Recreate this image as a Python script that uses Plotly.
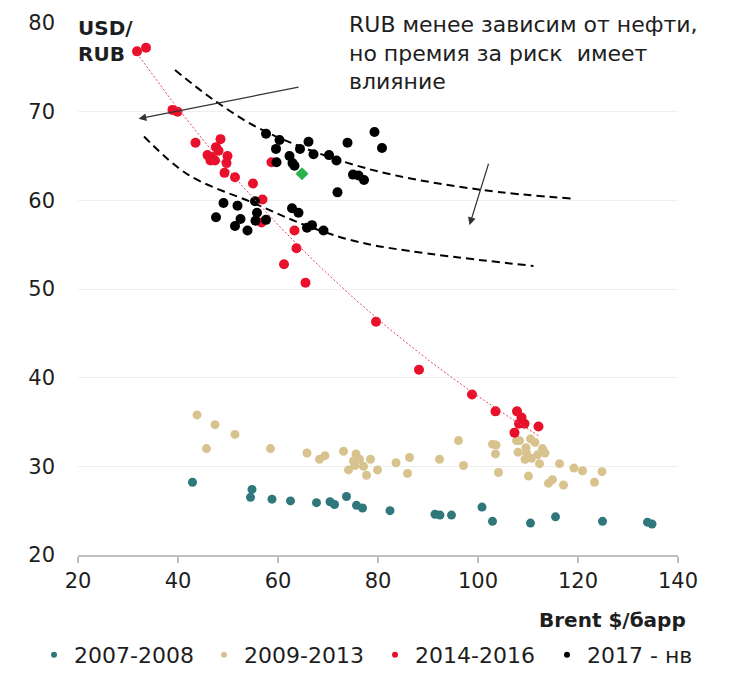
import numpy as np
import plotly.graph_objects as go

# ---------------- data ----------------
teal_x = [42.9, 54.8, 54.5, 58.8, 62.5, 67.7, 70.4, 71.3, 73.7, 75.7, 76.9, 82.4, 91.4, 92.4,
          94.7, 100.8, 102.9, 110.5, 115.5, 124.9, 133.9, 134.8]
teal_y = [28.2, 27.4, 26.5, 26.3, 26.1, 25.9, 26.0, 25.7, 26.6, 25.6, 25.3, 25.0, 24.6, 24.5,
          24.5, 25.4, 23.8, 23.6, 24.3, 23.8, 23.7, 23.5]

tan_x = [43.8, 47.4, 51.4, 45.7, 58.5, 65.8, 68.3, 69.4, 73.1, 75.6, 75.1, 76.3, 74.1, 75.4,
         77.1, 77.7, 78.5, 79.9, 83.6, 86.3, 85.9, 92.3, 96.1, 97.1, 102.9, 103.6, 103.5, 104.1,
         107.7, 108.3, 110.5, 111.4, 109.6, 108.0, 109.7, 112.9, 113.4, 111.9, 109.4, 110.7,
         112.3, 110.1, 116.3, 119.2, 120.9, 124.8, 123.3, 114.1, 114.9, 117.1]
tan_y = [35.8, 34.7, 33.6, 32.0, 32.0, 31.5, 30.8, 31.2, 31.7, 31.4, 30.6, 30.8, 29.6, 30.1,
         30.0, 29.0, 30.8, 29.6, 30.4, 31.0, 29.2, 30.8, 32.9, 30.1, 32.5, 32.4, 31.4, 29.3,
         32.9, 32.9, 33.1, 32.7, 32.1, 31.6, 31.5, 32.0, 31.5, 31.3, 30.8, 30.9,
         30.3, 28.9, 30.3, 29.8, 29.5, 29.4, 28.2, 28.1, 28.5, 27.9]

red_x = [31.8, 33.6, 38.9, 39.9, 43.5, 48.5, 47.6, 45.9, 46.8, 46.5, 47.4, 48.1, 49.9, 49.7,
         49.3, 51.4, 55.0, 56.9, 56.7, 58.7, 63.3, 63.7, 61.2, 65.5, 79.6, 88.2, 98.8, 103.5,
         107.8, 108.7, 108.2, 109.3, 112.1, 107.3]
red_y = [76.8, 77.2, 70.2, 70.0, 66.5, 66.9, 66.0, 65.1, 64.9, 64.5, 64.5, 65.6, 65.0, 64.2,
         63.1, 62.6, 61.9, 60.1, 57.5, 64.3, 56.6, 54.6, 52.8, 50.7, 46.3, 40.9, 38.1, 36.2,
         36.2, 35.5, 34.8, 34.8, 34.5, 33.8]

black_x = [57.6, 60.3, 59.6, 59.7, 62.3, 62.9, 63.3, 64.4, 66.1, 67.1, 70.2, 71.7, 73.9, 71.9,
           75.0, 76.1, 77.2, 79.3, 80.8, 49.1, 51.9, 47.6, 51.4, 52.5, 53.9, 55.4, 55.8, 55.5,
           57.6, 62.8, 64.1, 65.8, 66.8, 69.1]
black_y = [67.5, 66.8, 65.8, 64.3, 65.0, 64.2, 63.9, 65.8, 66.6, 65.2, 65.1, 64.5, 66.5, 60.9,
           62.9, 62.8, 62.3, 67.7, 65.9, 59.7, 59.4, 58.1, 57.1, 57.9, 56.6, 59.9, 58.6, 57.7,
           57.8, 59.1, 58.6, 56.9, 57.2, 56.6]

latest_x = [64.8]
latest_y = [63.0]

# hand-drawn guide curves (annotation)
upper_guide_x = [39.4, 47.7, 57.7, 77.7, 100.4, 118.9]
upper_guide_y = [74.7, 71.1, 67.7, 63.6, 61.2, 60.2]
lower_guide_x = [33.2, 42.0, 55.1, 66.4, 77.7, 111.1]
lower_guide_y = [67.2, 62.9, 59.7, 57.0, 55.1, 52.6]

series_names = ["2007-2008", "2009-2013", "2014-2016", "2017 - нв"]
series_colors = ["#2F777B", "#D8C38F", "#E8102B", "#000000"]

x_ticks = [20, 40, 60, 80, 100, 120, 140]
y_ticks = [20, 30, 40, 50, 60, 70, 80]

FONT = "DejaVu Sans"
TXT = "#1E1E1E"

fig = go.Figure()

# guide curves
for gx, gy in ((upper_guide_x, upper_guide_y), (lower_guide_x, lower_guide_y)):
    fig.add_trace(go.Scatter(x=gx, y=gy, mode="lines",
                             line=dict(color="#000", width=2, dash="8px,5px", shape="spline"),
                             showlegend=False, hoverinfo="skip"))

# scatter series
data = [(teal_x, teal_y, 9), (tan_x, tan_y, 9), (red_x, red_y, 10), (black_x, black_y, 10)]
for (xs, ys, sz), nm, col in zip(data, series_names, series_colors):
    fig.add_trace(go.Scatter(x=xs, y=ys, mode="markers", name=nm,
                             marker=dict(color=col, size=sz, line=dict(width=0)),
                             showlegend=False))

# exponential trend for 2014-2016
rx = np.array(red_x)
ry = np.array(red_y)
b, lna = np.polyfit(rx, np.log(ry), 1)
tx = np.linspace(rx.min(), rx.max(), 100)
ty = np.exp(lna) * np.exp(b * tx)
fig.add_trace(go.Scatter(x=tx, y=ty, mode="lines",
                         line=dict(color="#E8425A", width=1, dash="2px,2px"),
                         showlegend=False, hoverinfo="skip"))

fig.add_trace(go.Scatter(x=latest_x, y=latest_y, mode="markers",
                         marker=dict(color="#2BB24C", size=10, symbol="diamond"),
                         showlegend=False))

# legend entries, one legend per entry for exact placement
legend_ids = ["legend", "legend2", "legend3", "legend4"]
legend_left_px = [34, 204, 375, 547]
for nm, col, lid in zip(series_names, series_colors, legend_ids):
    fig.add_trace(go.Scatter(x=[None], y=[None], mode="markers", name=nm, legend=lid,
                             marker=dict(color=col, size=6)))

fig.add_annotation(x=32.1, y=69.2, ax=64.4, ay=72.8, xref="x", yref="y", axref="x", ayref="y",
                   showarrow=True, arrowhead=2, arrowsize=1.3, arrowwidth=1.2, arrowcolor="#333",
                   text="")
fig.add_annotation(x=98.3, y=57.2, ax=102.2, ay=64.3, xref="x", yref="y", axref="x", ayref="y",
                   showarrow=True, arrowhead=2, arrowsize=1.3, arrowwidth=1.2, arrowcolor="#333",
                   text="")

fig.add_annotation(text="RUB менее зависим от нефти,<br>но премия за риск  имеет<br>влияние",
                   xref="paper", yref="paper", x=0.448, y=1.024, xanchor="left", yanchor="top",
                   align="left", showarrow=False, font=dict(family=FONT, size=22, color=TXT))
fig.add_annotation(text="<b>USD/<br>RUB</b>", xref="paper", yref="paper", x=-0.004, y=1.017,
                   xanchor="left", yanchor="top", align="left", showarrow=False,
                   font=dict(family=FONT, size=20, color=TXT))
fig.add_annotation(text="<b>Brent $/барр</b>", xref="paper", yref="paper", x=1.017, y=-0.122,
                   xanchor="right", yanchor="middle", showarrow=False,
                   font=dict(family=FONT, size=20, color=TXT))

# the page body adds an 8px offset; margins compensate so the plot area spans 78..678 x 23..555
W, H = 742, 678
L, T = 70, 15
PW, PH = 600, 532
R = W - L - PW
B = H - T - PH
legend_layout = {}
for lid, px in zip(legend_ids, legend_left_px):
    legend_layout[lid] = dict(orientation="h", x=(px - 78) / PW, y=-0.188, xanchor="left",
                              yanchor="middle", itemwidth=30,
                              font=dict(family=FONT, size=22, color=TXT),
                              bgcolor="rgba(0,0,0,0)")

fig.update_layout(
    width=W, height=H,
    margin=dict(l=L, r=R, t=T, b=B, autoexpand=False),
    paper_bgcolor="white", plot_bgcolor="white",
    font=dict(family=FONT, size=21, color=TXT),
    showlegend=True,
    **legend_layout,
)
fig.update_xaxes(range=[20, 140], tickvals=x_ticks, showgrid=False, zeroline=False,
                 showline=True, linecolor="#BFBFBF", linewidth=1.5, automargin=False,
                 ticks="outside", ticklen=6, tickcolor="#BFBFBF", tickwidth=1.5,
                 tickfont=dict(family=FONT, size=21, color=TXT))
fig.update_yaxes(range=[20, 80], tickvals=y_ticks, showgrid=True, gridcolor="#EFEFEF",
                 gridwidth=1, zeroline=False, showline=False, ticks="", automargin=False,
                 ticklabelstandoff=22,
                 tickfont=dict(family=FONT, size=21, color=TXT))

fig.write_html("out.html")
